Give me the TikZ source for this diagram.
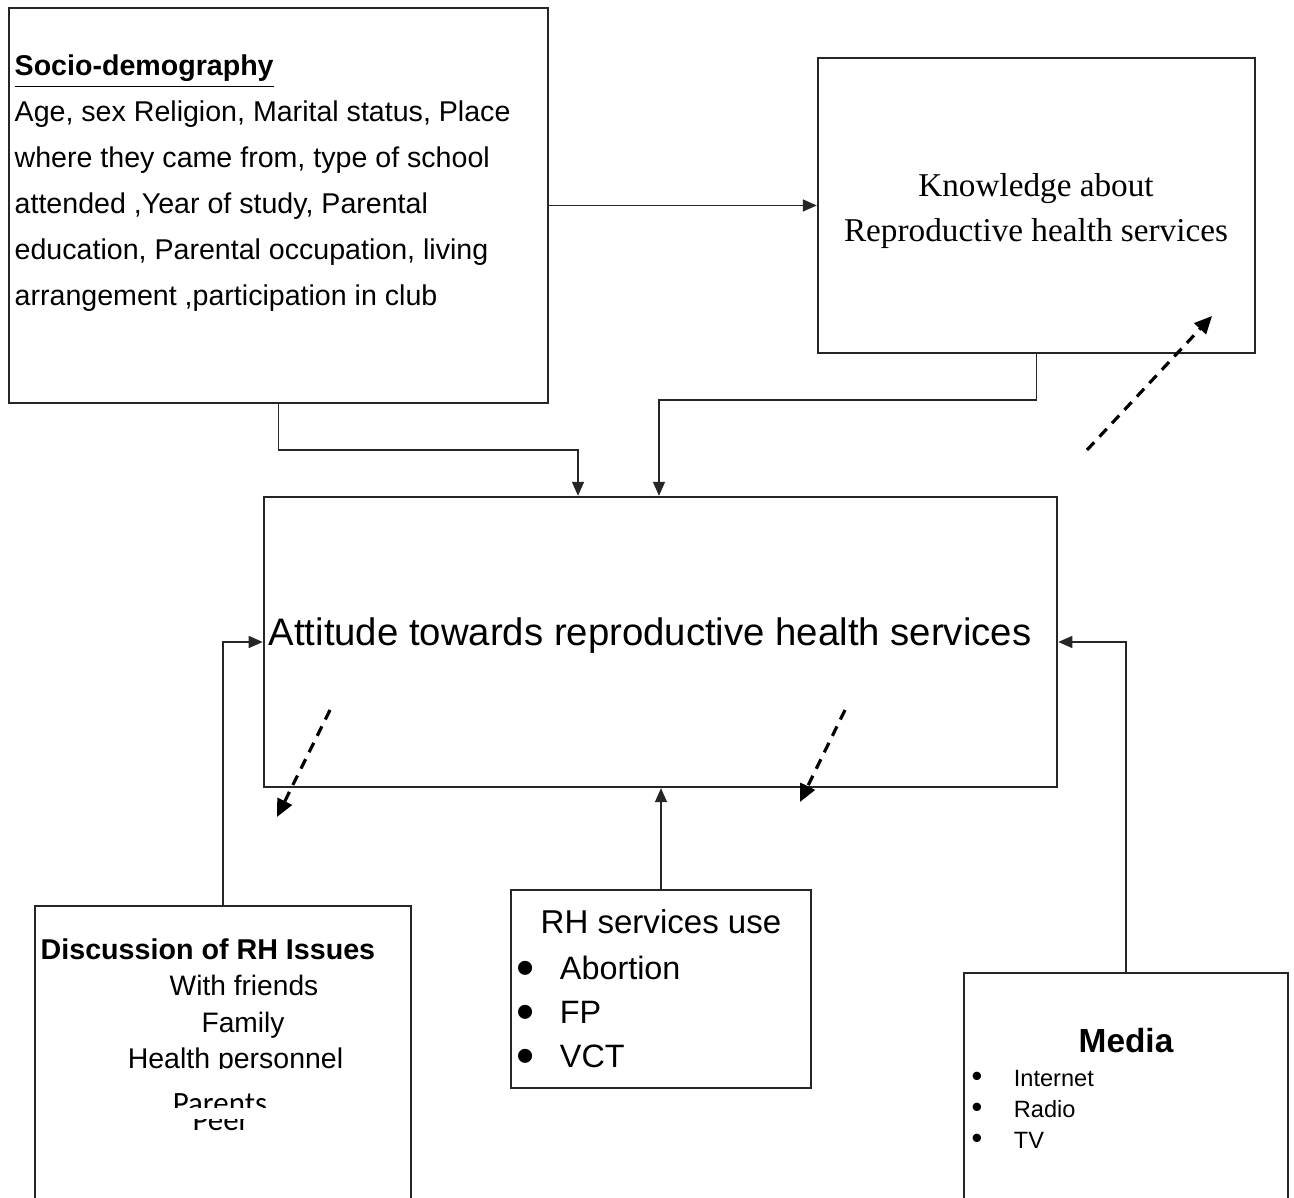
\documentclass[tikz,border=0pt]{standalone}
\usepackage{fontspec}
\usepackage{graphicx}
\setmainfont{Liberation Sans}
\newfontfamily\timesfont{Liberation Serif}
\newfontfamily\calfont{Carlito}
\usetikzlibrary{arrows.meta}
% bullet: box width, scale, raise
\newcommand{\bul}[3]{\makebox[#1][l]{\smash{\raisebox{#3}{\scalebox{#2}{\textbullet}}}}}
\tikzset{
  box/.style={draw=black!85,line width=0.6pt,inner sep=0pt},
  arr/.style={-{Triangle[length=4pt,width=3.4pt]},line width=0.5pt,draw=black!85},
  dasharr/.style={-{Triangle[length=5pt,width=4.5pt]},line width=0.9pt,dash pattern=on 3pt off 2.2pt}
}

\begin{document}
\begin{tikzpicture}[x=0.01cm,y=-0.01cm]
  \useasboundingbox (0,0) rectangle (1294,1198);
  \clip (0,0) rectangle (1294,1198);
  % boxes
  \node[box,minimum width=5.39cm,minimum height=3.95cm] (socio) at (278.5,205.5) {};
  \node[box,minimum width=4.37cm,minimum height=2.95cm] (know) at (1036.5,205.5) {};
  \node[box,minimum width=7.93cm,minimum height=2.90cm] (att) at (660.5,642) {};
  \node[box,minimum width=3.76cm,minimum height=3.14cm] (disc) at (223,1063) {};
  \node[box,minimum width=3.00cm,minimum height=1.98cm] (rh) at (661,989) {};
  \node[box,minimum width=3.24cm,minimum height=2.47cm] (media) at (1126,1096.5) {};
  % texts
  \node[anchor=north west,inner sep=0pt,align=left,font=\fontsize{8.13}{13.1}\selectfont] (sociotxt) at (14,54)
    {\underline{\textbf{Socio-demography}}\\
     Age, sex Religion, Marital status, Place\\
     where they came from, type of school\\
     attended ,Year of study, Parental\\
     education, Parental occupation, living\\
     arrangement ,participation in club};
  \node[align=center,font=\timesfont\fontsize{9.45}{13}\selectfont] (knowtxt) at (1036,211)
    {Knowledge about\\Reproductive health services};
  \node[font=\fontsize{10.9}{13}\selectfont] (atttxt) at (650,636)
    {Attitude towards reproductive health services};
  \node[font=\fontsize{9.4}{12.5}\selectfont] (rhtitle) at (661,922) {RH services use};
  \node[anchor=west,inner sep=0pt,align=left,font=\fontsize{9.2}{12.5}\selectfont] (rhlist) at (516,1012)
    {\bul{12.3pt}{1.6}{-1.8pt}Abortion\\\bul{12.3pt}{1.6}{-1.8pt}FP\\\bul{12.3pt}{1.6}{-1.8pt}VCT};
  \node[font=\bfseries\fontsize{9.5}{11}\selectfont] (mediatitle) at (1126,1041) {Media};
  \node[anchor=west,inner sep=0pt,align=left,font=\fontsize{6.7}{8.8}\selectfont] (medialist) at (971,1109)
    {\bul{12pt}{1.3}{0pt}Internet\\\bul{12pt}{1.3}{0pt}Radio\\\bul{12pt}{1.3}{0pt}TV};
  \node[anchor=west,inner sep=0pt,font=\bfseries\fontsize{8.15}{9}\selectfont] (disctitle) at (40,949)
    {Discussion of RH Issues};
  \node[anchor=base,inner sep=0pt,font=\fontsize{8}{9}\selectfont] (friends) at (244,995) {With friends};
  \node[anchor=base,inner sep=0pt,font=\fontsize{8}{9}\selectfont] (family) at (243,1032) {Family};
  \begin{scope}
    \clip (100,1030) rectangle (380,1068);
    \node[anchor=base,inner sep=0pt,font=\fontsize{8.1}{9}\selectfont] (health) at (235.5,1068) {Health personnel};
  \end{scope}
  \begin{scope}
    \clip (100,1075) rectangle (380,1107);
    \node[anchor=base,inner sep=0pt,font=\calfont\fontsize{8.8}{9}\selectfont] (parents) at (220,1113)
      {\raisebox{0pt}[\height][0pt]{Parents}};
  \end{scope}
  \begin{scope}
    \clip (100,1119) rectangle (380,1150);
    \node[anchor=base,inner sep=0pt,font=\calfont\fontsize{8.8}{9}\selectfont] (peer) at (221,1130)
      {\raisebox{0pt}[3pt][0pt]{Peer}};
  \end{scope}
  % connectors
  \coordinate (socbend) at (578,450);
  \coordinate (knowbend) at (659,400);
  \draw[arr] (socio.east) -- (know.west);
  \draw[arr] (socio.south) |- (socbend) -- (socbend |- att.north);
  \draw[arr] (know.south) |- (knowbend) -- (knowbend |- att.north);
  \draw[arr] (disc.north) |- (att.west);
  \draw[arr] (rh.north) -- (rh.north |- att.south);
  \draw[arr] (media.north) |- (att.east);
  % dashed arrows
  \coordinate (k1) at (1087,450); \coordinate (k2) at (1212,316);
  \coordinate (a1) at (330,710); \coordinate (a2) at (277,817);
  \coordinate (b1) at (845,710); \coordinate (b2) at (800,802);
  \draw[dasharr] (k1) -- (k2);
  \draw[dasharr] (a1) -- (a2);
  \draw[dasharr] (b1) -- (b2);
\end{tikzpicture}
\end{document}
